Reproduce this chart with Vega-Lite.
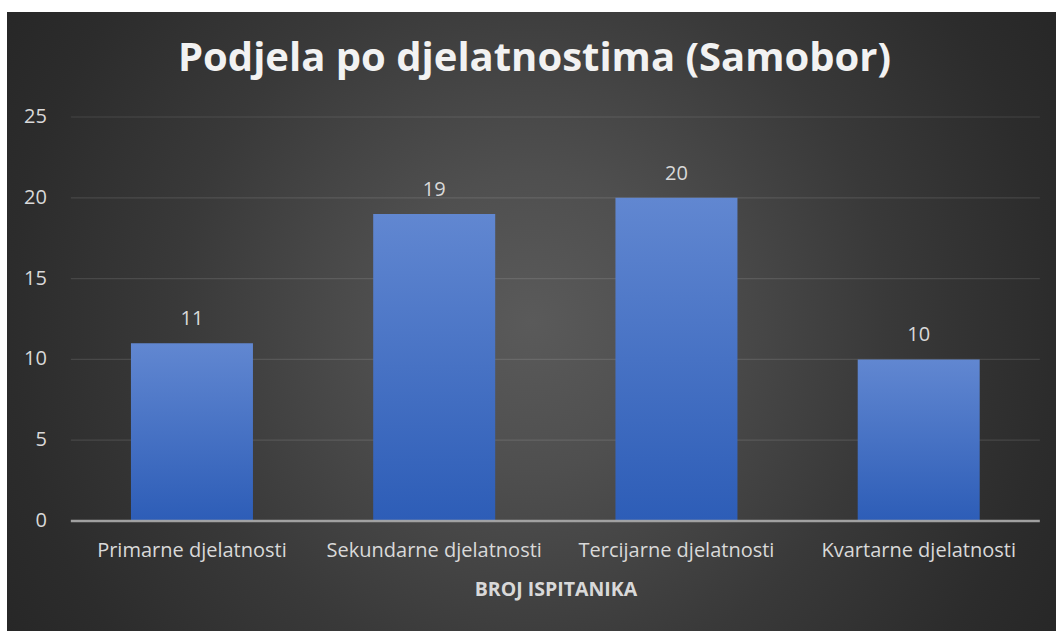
{
  "$schema": "https://vega.github.io/schema/vega-lite/v6.json",
  "width": 1049,
  "height": 619,
  "autosize": "none",
  "padding": {"left": 7, "top": 12, "right": 0, "bottom": 0},
  "background": "#ffffff",
  "title": {
    "text": "Podjela po djelatnostima (Samobor)",
    "font": "Open Sans",
    "fontSize": 40,
    "fontWeight": "bold",
    "color": "#f2f2f2",
    "anchor": "middle",
    "frame": "group",
    "baseline": "alphabetic",
    "offset": -99,
    "dx": 3
  },
  "datasets": {
    "bars": [
      {"kategorija": "Primarne djelatnosti", "broj": 11},
      {"kategorija": "Sekundarne djelatnosti", "broj": 19},
      {"kategorija": "Tercijarne djelatnosti", "broj": 20},
      {"kategorija": "Kvartarne djelatnosti", "broj": 10}
    ],
    "grid": [{"v": 5}, {"v": 10}, {"v": 15}, {"v": 20}, {"v": 25}],
    "yticks": [{"t": 0}, {"t": 5}, {"t": 10}, {"t": 15}, {"t": 20}, {"t": 25}],
    "xtitle": [{"naslov": "BROJ ISPITANIKA"}]
  },
  "data": {"name": "bars"},
  "layer": [
    {
      "data": {"values": [{"bg": 1}]},
      "mark": {
        "type": "rect",
        "fill": {
          "gradient": "radial",
          "x1": 0.5, "y1": 0.5, "r1": 0,
          "x2": 0.5, "y2": 0.5, "r2": 0.6,
          "stops": [
            {"offset": 0, "color": "#5a5a5a"},
            {"offset": 0.234, "color": "#4f4f4f"},
            {"offset": 0.566, "color": "#393939"},
            {"offset": 0.828, "color": "#2c2c2c"},
            {"offset": 1, "color": "#262626"}
          ]
        }
      },
      "encoding": {}
    },
    {
      "data": {"name": "grid"},
      "mark": {"type": "rule", "color": "#ffffff", "opacity": 0.11, "strokeWidth": 1.2},
      "encoding": {
        "y": {"field": "v", "type": "quantitative", "axis": null},
        "x": {"datum": "Primarne djelatnosti", "bandPosition": -0.4928, "axis": null},
        "x2": {"datum": "Kvartarne djelatnosti", "bandPosition": 1.4928}
      }
    },
    {
      "mark": {
        "type": "bar",
        "fill": {
          "gradient": "linear",
          "x1": 0, "y1": 0, "x2": 0, "y2": 1,
          "stops": [
            {"offset": 0, "color": "#6187d1"},
            {"offset": 1, "color": "#2d5db7"}
          ]
        }
      },
      "encoding": {
        "x": {
          "field": "kategorija",
          "type": "nominal",
          "sort": null,
          "axis": null,
          "scale": {
            "domain": ["Primarne djelatnosti", "Sekundarne djelatnosti", "Tercijarne djelatnosti", "Kvartarne djelatnosti"],
            "paddingInner": 0.4964, "paddingOuter": 0.4133, "align": 0.619
          }
        },
        "y": {
          "field": "broj",
          "type": "quantitative",
          "axis": null,
          "scale": {"domain": [-6.807, 31.497], "nice": false, "zero": false}
        },
        "y2": {"datum": 0}
      }
    },
    {
      "data": {"values": [{"z": 0}]},
      "mark": {"type": "rule", "color": "#a6a6a6", "strokeWidth": 2.5, "opacity": 0.95},
      "encoding": {
        "y": {"field": "z", "type": "quantitative", "axis": null},
        "x": {"datum": "Primarne djelatnosti", "bandPosition": -0.4928, "axis": null},
        "x2": {"datum": "Kvartarne djelatnosti", "bandPosition": 1.4928}
      }
    },
    {
      "mark": {"type": "text", "font": "Open Sans", "fontSize": 20, "color": "#d9d9d9", "baseline": "alphabetic", "dy": -18},
      "encoding": {
        "x": {"field": "kategorija", "type": "nominal", "sort": null, "axis": null},
        "y": {"field": "broj", "type": "quantitative", "axis": null},
        "text": {"field": "broj", "type": "quantitative"}
      }
    },
    {
      "data": {"name": "yticks"},
      "mark": {"type": "text", "font": "Open Sans", "fontSize": 20, "color": "#d9d9d9", "align": "right", "baseline": "middle"},
      "encoding": {
        "x": {"datum": "Primarne djelatnosti", "bandPosition": -0.6885, "axis": null},
        "y": {"field": "t", "type": "quantitative", "axis": null},
        "text": {"field": "t", "type": "quantitative"}
      }
    },
    {
      "mark": {"type": "text", "font": "Open Sans", "fontSize": 20, "color": "#d9d9d9", "align": "center", "baseline": "alphabetic", "dy": 36},
      "encoding": {
        "x": {"field": "kategorija", "type": "nominal", "sort": null, "axis": null},
        "y": {"datum": 0, "axis": null},
        "text": {"field": "kategorija", "type": "nominal"}
      }
    },
    {
      "data": {"name": "xtitle"},
      "mark": {"type": "text", "font": "Open Sans", "fontSize": 19.5, "fontWeight": "bold", "color": "#d9d9d9", "align": "center", "baseline": "alphabetic", "dy": 75},
      "encoding": {
        "x": {"datum": "Sekundarne djelatnosti", "bandPosition": 1.498, "axis": null},
        "y": {"datum": 0, "axis": null},
        "text": {"field": "naslov", "type": "nominal"}
      }
    }
  ],
  "config": {"view": {"stroke": null}}
}
